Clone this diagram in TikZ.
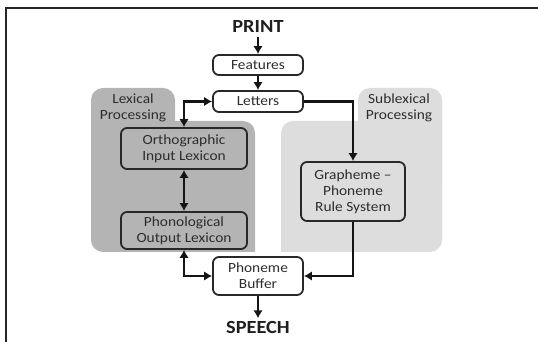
\documentclass[tikz,border=0pt]{standalone}
\usepackage{fontspec}
\setmainfont{Carlito}[FakeStretch=1.1]
\usetikzlibrary{arrows.meta}
\definecolor{lexgray}{RGB}{180,180,180}
\definecolor{subgray}{RGB}{221,221,221}
\definecolor{boxline}{RGB}{40,40,40}
\definecolor{txt}{RGB}{45,45,45}
\tikzset{
  x=1pt, y=1pt,
  procbox/.style={draw=boxline, line width=1.8pt, rounded corners=6pt, inner sep=0pt,
    align=center, text=txt, font=\fontsize{14}{16}\selectfont},
  whitebox/.style={procbox, fill=white},
  lexbox/.style={procbox, fill=lexgray},
  subbox/.style={procbox, fill=subgray},
  endlabel/.style={font=\fontsize{18.5}{20}\selectfont\bfseries, text=black!88},
  arealabel/.style={align=center, text=txt, font=\fontsize{14}{16}\selectfont},
  tip/.tip={Latex[length=8pt,width=9.5pt]},
  conn/.style={line width=2.2pt, black!92, -tip},
  biconn/.style={line width=2.2pt, black!92, tip-tip}
}
\begin{document}
\begin{tikzpicture}
\useasboundingbox (0,0) rectangle (538,342);
\fill[white] (0,0) rectangle (538,342);
% frame
\draw[line width=1.8pt, black!85] (6,0) -- (6,334) -- (538,334);
% lexical region
\fill[lexgray, rounded corners=12pt] (91,150) rectangle (175,254);
\fill[lexgray] (91,221) -- (243,221) arc[start angle=90,end angle=0,radius=12pt] -- (255,90) -- (103,90) arc[start angle=270,end angle=180,radius=12pt] -- cycle;
% sublexical region
\fill[subgray, rounded corners=12pt] (358,150) rectangle (442,254);
\fill[subgray] (442,221) -- (293,221) arc[start angle=90,end angle=180,radius=12pt] -- (281,90) -- (430,90) arc[start angle=270,end angle=360,radius=12pt] -- cycle;
% labels
\node[arealabel] (lexlab) at (133,234) {Lexical\\Processing};
\node[arealabel] (sublab) at (399,234) {Sublexical\\Processing};
\node[endlabel] (print) at (258,315) {PRINT};
\node[endlabel] (speech) at (258,14) {SPEECH};
% boxes
\node[whitebox, minimum width=90pt, minimum height=20pt] (features) at (258,277) {Features};
\node[whitebox, minimum width=90pt, minimum height=21pt] (letters) at (258,240.5) {Letters};
\node[lexbox, minimum width=126pt, minimum height=41pt] (ortho) at (184,193.5) {Orthographic\\Input Lexicon};
\node[lexbox, minimum width=126pt, minimum height=37pt] (phono) at (184,111.5) {Phonological\\Output Lexicon};
\node[subbox, minimum width=104pt, minimum height=59pt] (gpc) at (353,150.5) {Grapheme –\\Phoneme\\Rule System};
\node[whitebox, minimum width=90pt, minimum height=38pt] (buffer) at (258,66) {Phoneme\\Buffer};
% connectors
\draw[conn] (print.south) -- (features.north);
\draw[conn] (features.south) -- (letters.north);
\draw[biconn] (ortho.north) |- (letters.west);
\draw[conn] (letters.east) -| (gpc.north);
\draw[biconn] (ortho.south) -- (phono.north);
\draw[biconn] (phono.south) |- (buffer.west);
\draw[conn] (gpc.south) |- (buffer.east);
\draw[conn] (buffer.south) -- (speech.north);
\end{tikzpicture}
\end{document}
